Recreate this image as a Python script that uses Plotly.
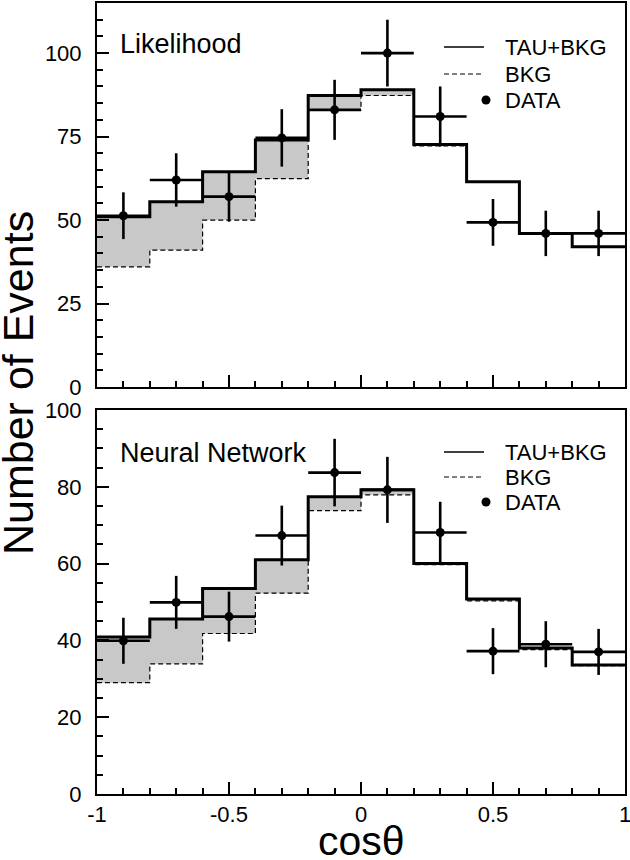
import plotly.graph_objects as go

# ---- data ----
bin_edges = [-1.0, -0.8, -0.6, -0.4, -0.2, 0.0, 0.2, 0.4, 0.6, 0.8, 1.0]
bin_centers = [-0.9, -0.7, -0.5, -0.3, -0.1, 0.1, 0.3, 0.5, 0.7, 0.9]
bin_halfwidth = [0.1] * 10

lh_total = [51, 55.5, 64.5, 74, 87.3, 89, 72.6, 61.5, 46, 42]
lh_bkg = [36, 41, 50, 62.4, 83, 87.3, 72.2, 61.3, 45.8, 41.8]
lh_data = [51.3, 62, 57, 74.6, 83, 100, 81, 49.3, 46, 46]
lh_err = [7, 8, 7.5, 8.6, 9, 10, 9, 7, 6.8, 6.8]

nn_total = [40.9, 45.6, 53.5, 61, 77.4, 79.2, 60, 50.8, 38, 33.6]
nn_bkg = [29, 33.9, 41.8, 52.3, 73.8, 77.9, 59.7, 50.3, 37.6, 33.4]
nn_data = [39.9, 49.9, 46.2, 67.3, 83.7, 79.2, 68.1, 37.2, 39, 37]
nn_err = [6, 6.9, 6.5, 7.8, 8.8, 8.6, 8, 6, 6, 6]

panel_labels = ["Likelihood", "Neural Network"]
legend_labels = ["TAU+BKG", "BKG", "DATA"]
x_tickvals = [-1, -0.5, 0, 0.5, 1]
x_ticktext = ["-1", "-0.5", "0", "0.5", "1"]

FONT = "Liberation Sans, Arial, Helvetica, sans-serif"
FILL = "#c8c8c8"
DASH = "5px,3px"

fig = go.Figure()


def step(vals):
    return list(vals) + [vals[-1]]


def add_panel(xa, ya, total, bkg, data, err):
    fig.add_trace(go.Scatter(x=bin_edges, y=step(bkg), mode="lines", line_shape="hv",
                             line=dict(color="rgba(0,0,0,0)", width=0), xaxis=xa, yaxis=ya,
                             showlegend=False, hoverinfo="skip"))
    fig.add_trace(go.Scatter(x=bin_edges, y=step(total), mode="lines", line_shape="hv",
                             fill="tonexty", fillcolor=FILL,
                             line=dict(color="rgba(0,0,0,0)", width=0), xaxis=xa, yaxis=ya,
                             showlegend=False, hoverinfo="skip"))
    fig.add_trace(go.Scatter(x=bin_edges, y=step(bkg), mode="lines", line_shape="hv",
                             line=dict(color="black", width=1.2, dash=DASH), xaxis=xa, yaxis=ya,
                             showlegend=False, name="BKG"))
    fig.add_trace(go.Scatter(x=bin_edges, y=step(total), mode="lines", line_shape="hv",
                             line=dict(color="black", width=3), xaxis=xa, yaxis=ya,
                             showlegend=False, name="TAU+BKG"))
    fig.add_trace(go.Scatter(x=bin_centers, y=data, mode="markers",
                             marker=dict(color="black", size=9),
                             error_y=dict(type="data", array=err, color="black", thickness=2.6, width=0),
                             error_x=dict(type="data", array=bin_halfwidth, color="black", thickness=2.6, width=0),
                             xaxis=xa, yaxis=ya, showlegend=False, name="DATA"))


add_panel("x", "y", lh_total, lh_bkg, lh_data, lh_err)
add_panel("x2", "y2", nn_total, nn_bkg, nn_data, nn_err)

top_dom = [(794 - 387) / 791, 1.0]
bot_dom = [0.0, (794 - 410) / 791]

axis_common = dict(showline=True, linecolor="black", linewidth=2, mirror=True,
                   ticks="inside", tickcolor="black", tickwidth=2, showgrid=False, zeroline=False,
                   automargin=False, ticklabeloverflow="allow",
                   tickfont=dict(family=FONT, size=22, color="black"))
minor_common = dict(ticklen=6, ticks="inside", tickcolor="black", tickwidth=2)

fig.update_layout(
    width=630, height=860,
    margin=dict(l=97, r=5, t=3, b=66),
    paper_bgcolor="white", plot_bgcolor="white",
    font=dict(family=FONT, color="black"),
    showlegend=False,
    xaxis=dict(domain=[0, 1], anchor="y", range=[-1, 1], tickvals=x_tickvals, ticktext=x_ticktext,
               showticklabels=False, ticklen=12, minor=dict(dtick=0.1, **minor_common), **axis_common),
    yaxis=dict(domain=top_dom, anchor="x", range=[0, 115], dtick=25, ticklen=12,
               minor=dict(dtick=5, **minor_common), ticklabelstandoff=9, **axis_common),
    xaxis2=dict(domain=[0, 1], anchor="y2", range=[-1, 1], tickvals=x_tickvals, ticktext=x_ticktext,
                ticklen=12, minor=dict(dtick=0.1, **minor_common), **axis_common),
    yaxis2=dict(domain=bot_dom, anchor="x2", range=[0, 100], dtick=20, ticklen=12,
                minor=dict(dtick=5, **minor_common), ticklabelstandoff=9, **axis_common),
)

# axis titles
fig.add_annotation(text="Number of Events", xref="paper", yref="paper", x=(18 - 97) / 528,
                   y=(794 - 383) / 791, textangle=-90, showarrow=False,
                   font=dict(family=FONT, size=43, color="black"), xanchor="center", yanchor="middle")
fig.add_annotation(text="cosθ", xref="paper", yref="paper", x=0.5,
                   y=(794 - 841) / 791, showarrow=False,
                   font=dict(family=FONT, size=41, color="black"), xanchor="center", yanchor="middle")

# panel labels and legends
panels = [("x domain", "y domain", 387), ("x2 domain", "y2 domain", 794)]
leg_y_px = [[47, 74, 100], [452, 477, 502]]
lab_y_px = [44, 453]
for i, (xr, yr, base) in enumerate(panels):
    fig.add_annotation(text=panel_labels[i], xref=xr, yref=yr, x=(118 - 97) / 528,
                       y=(base - lab_y_px[i]) / 384, xanchor="left", yanchor="middle",
                       showarrow=False, font=dict(family=FONT, size=27, color="black"))
    ys = [(base - p) / 384 for p in leg_y_px[i]]
    x0, x1, xt = (444 - 97) / 528, (484 - 97) / 528, (503 - 97) / 528
    fig.add_shape(type="line", xref=xr, yref=yr, x0=x0, x1=x1, y0=ys[0], y1=ys[0],
                  line=dict(color="black", width=1.5))
    fig.add_shape(type="line", xref=xr, yref=yr, x0=x0, x1=x1, y0=ys[1], y1=ys[1],
                  line=dict(color="black", width=1.2, dash=DASH))
    cx, r_x, r_y = (486 - 97) / 528, 4.5 / 528, 4.5 / 384
    fig.add_shape(type="circle", xref=xr, yref=yr, x0=cx - r_x, x1=cx + r_x,
                  y0=ys[2] - r_y, y1=ys[2] + r_y, fillcolor="black", line=dict(color="black", width=0))
    for lab, yy in zip(legend_labels, ys):
        fig.add_annotation(text=lab, xref=xr, yref=yr, x=xt, y=yy, xanchor="left", yanchor="middle",
                           showarrow=False, font=dict(family=FONT, size=22, color="black"))

fig.write_html("out.html", config={"displayModeBar": False},
               post_script="document.body.style.margin='0';document.body.style.overflow='hidden';")
